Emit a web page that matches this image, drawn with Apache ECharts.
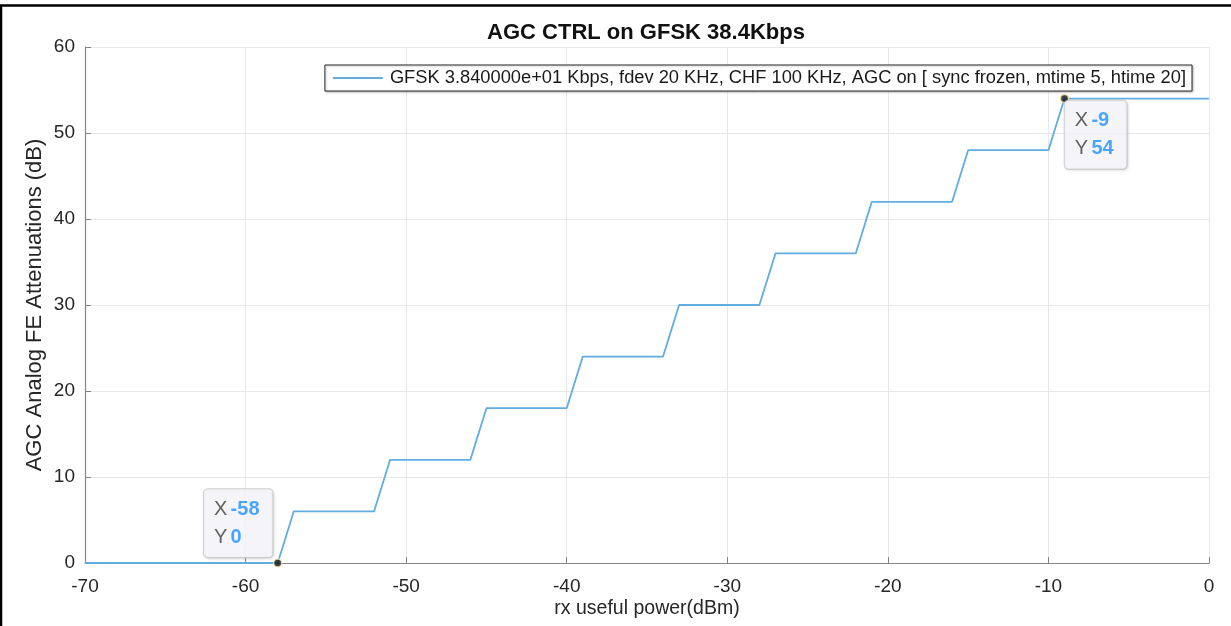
<!DOCTYPE html>
<html>
<head>
<meta charset="utf-8">
<script src="https://cdn.jsdelivr.net/npm/echarts@6/dist/echarts.min.js"></script>
<style>
  html, body { margin: 0; padding: 0; background: #ffffff; }
  #chart { width: 1231px; height: 626px; }
</style>
</head>
<body>
<div id="chart"></div>
<script>
// Received power sweep (dBm), one point per dB
const rxPower = [
  -70, -69, -68, -67, -66, -65, -64, -63, -62, -61, -60, -59, -58,
  -57, -56, -55, -54, -53, -52,
  -51, -50, -49, -48, -47, -46,
  -45, -44, -43, -42, -41, -40,
  -39, -38, -37, -36, -35, -34,
  -33, -32, -31, -30, -29, -28,
  -27, -26, -25, -24, -23, -22,
  -21, -20, -19, -18, -17, -16,
  -15, -14, -13, -12, -11, -10,
  -9, -8, -7, -6, -5, -4, -3, -2, -1, 0
];
// AGC analog front-end attenuation (dB) at each power step
const attenuation = [
  0, 0, 0, 0, 0, 0, 0, 0, 0, 0, 0, 0, 0,
  6, 6, 6, 6, 6, 6,
  12, 12, 12, 12, 12, 12,
  18, 18, 18, 18, 18, 18,
  24, 24, 24, 24, 24, 24,
  30, 30, 30, 30, 30, 30,
  36, 36, 36, 36, 36, 36,
  42, 42, 42, 42, 42, 42,
  48, 48, 48, 48, 48, 48,
  54, 54, 54, 54, 54, 54, 54, 54, 54, 54
];
// Data tips pinned on the curve
const tipX = [-58, -9];
const tipY = [0, 54];

const seriesName = 'GFSK 3.840000e+01 Kbps, fdev 20 KHz, CHF 100 KHz, AGC on [ sync frozen, mtime 5, htime 20]';
const FONT = 'Liberation Sans, Arial, Helvetica, sans-serif';

const chart = echarts.init(document.getElementById('chart'), null, { renderer: 'canvas' });

// Data-tip box: top-left corner placed relative to the marked point
const tipLabel = (offset) => ({
  show: true,
  position: [4, 4],
  align: 'left',
  verticalAlign: 'top',
  offset: offset,
  formatter: p => '{k|X} {v|' + p.value[0] + '}\n{k|Y} {v|' + p.value[1] + '}',
  backgroundColor: '#f9f9fe',
  borderColor: '#c9c9c9',
  borderWidth: 1,
  borderRadius: 4,
  padding: [6, 13, 6, 10],
  shadowColor: 'rgba(0,0,0,0.12)',
  shadowBlur: 3,
  shadowOffsetX: 1,
  shadowOffsetY: 1,
  rich: {
    k: { fontFamily: FONT, fontSize: 20, color: '#3c3c3c', lineHeight: 28, align: 'left' },
    v: { fontFamily: FONT, fontSize: 20, fontWeight: 'bold', color: '#1e90ff', lineHeight: 28, align: 'left' }
  }
});

chart.setOption({
  animation: false,
  backgroundColor: '#ffffff',
  title: {
    text: 'AGC CTRL on GFSK 38.4Kbps',
    left: 641,
    textAlign: 'center',
    top: 17,
    textStyle: { fontFamily: FONT, fontSize: 22, fontWeight: 'bold', color: '#111111' }
  },
  legend: {
    data: [seriesName],
    right: 39,
    top: 65,
    icon: 'rect',
    itemWidth: 50,
    itemHeight: 2,
    itemGap: 6,
    padding: [4, 6, 4, 8],
    borderColor: '#2a2a2a',
    borderWidth: 1,
    backgroundColor: '#ffffff',
    shadowColor: 'rgba(0,0,0,0.25)',
    shadowBlur: 2,
    shadowOffsetX: 1,
    shadowOffsetY: 1,
    textStyle: { fontFamily: FONT, fontSize: 18.3, color: '#1a1a1a', padding: [0, 0, 0, 2] }
  },
  grid: { left: 85, right: 22, top: 47, bottom: 63, containLabel: false },
  xAxis: {
    type: 'value',
    min: -70,
    max: 0,
    interval: 10,
    name: 'rx useful power(dBm)',
    nameLocation: 'middle',
    nameGap: 36,
    nameMoveOverlap: false,
    nameTextStyle: { fontFamily: FONT, fontSize: 19.5, color: '#262626' },
    axisLine: { show: true, onZero: false, lineStyle: { color: '#858585', width: 1.2 } },
    axisTick: { show: true, inside: true, length: 6, lineStyle: { color: '#858585' } },
    axisLabel: { fontFamily: FONT, fontSize: 19, color: '#262626', margin: 14 },
    splitLine: { show: true, lineStyle: { color: '#e8e8e8', width: 1 } }
  },
  yAxis: {
    type: 'value',
    min: 0,
    max: 60,
    interval: 10,
    name: 'AGC Analog FE Attenuations (dB)',
    nameLocation: 'middle',
    nameGap: 39,
    nameMoveOverlap: false,
    nameTextStyle: { fontFamily: FONT, fontSize: 22, color: '#262626' },
    axisLine: { show: true, onZero: false, lineStyle: { color: '#858585', width: 1.2 } },
    axisTick: { show: true, inside: true, length: 6, lineStyle: { color: '#858585' } },
    axisLabel: { fontFamily: FONT, fontSize: 19, color: '#262626', margin: 10 },
    splitLine: { show: true, lineStyle: { color: '#e8e8e8', width: 1 } }
  },
  series: [
    {
      name: seriesName,
      type: 'line',
      data: rxPower.map((x, i) => [x, attenuation[i]]),
      showSymbol: false,
      symbol: 'none',
      color: '#62ade0',
      lineStyle: { color: '#62ade0', width: 1.8 },
      z: 3
    },
    {
      name: 'tips',
      type: 'scatter',
      data: [
        { value: [tipX[0], tipY[0]], label: tipLabel([-73, -73]) },
        { value: [tipX[1], tipY[1]], label: tipLabel([1, 3]) }
      ],
      symbol: 'circle',
      symbolSize: 8,
      itemStyle: { color: '#111111', borderColor: '#f3efb0', borderWidth: 1.5 },
      z: 5,
      silent: true
    }
  ],
  graphic: [
    {
      type: 'rect',
      shape: { x: 1, y: 5.5, width: 1300, height: 700 },
      style: { fill: 'none', stroke: '#000000', lineWidth: 2.5 },
      silent: true,
      z: 10
    }
  ]
});
</script>
</body>
</html>
